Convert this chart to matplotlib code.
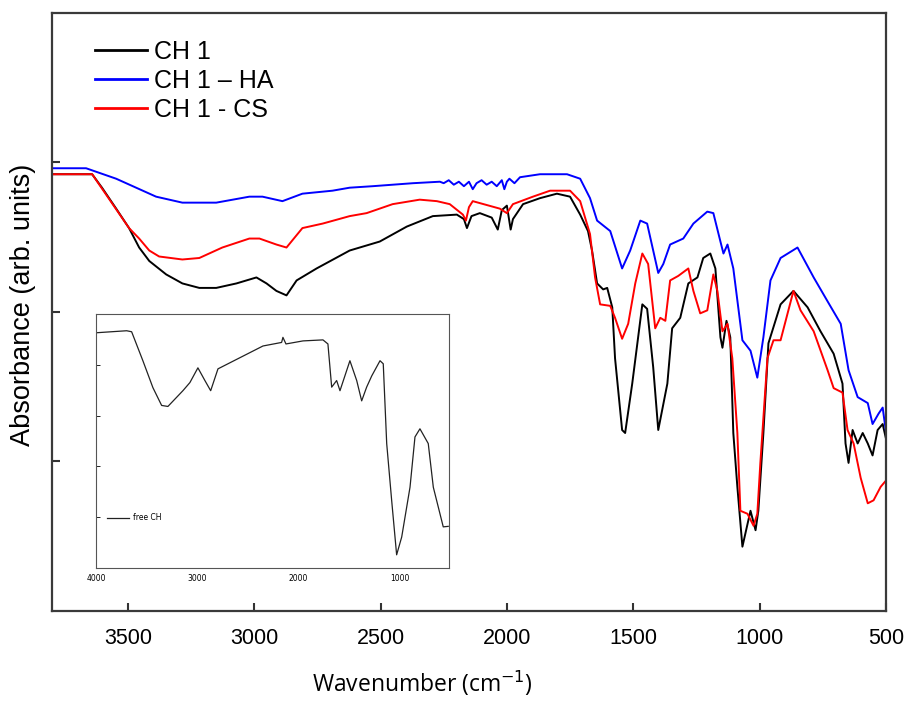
import matplotlib
matplotlib.use('Agg')
import matplotlib.pyplot as plt

# FTIR spectra, values (arbitrary absorbance units)
wn_ch1 = [3800, 3641, 3602, 3546, 3495, 3455, 3415, 3348, 3284, 3217, 3150, 3070, 2991,
          2951, 2912, 2872, 2832, 2753, 2622, 2503, 2396, 2293, 2198, 2170, 2158, 2140,
          2107, 2060, 2036, 2020, 2000, 1985, 1976, 1936, 1869, 1802, 1750, 1710, 1679,
          1663, 1643, 1619, 1603, 1583, 1572, 1544, 1532, 1504, 1464, 1445, 1421, 1401,
          1365, 1346, 1314, 1282, 1246, 1223, 1195, 1175, 1155, 1147, 1131, 1116, 1104,
          1088, 1068, 1056, 1036, 1016, 1005, 985, 965, 917, 866, 810, 759, 707, 672,
          660, 648, 632, 612, 592, 572, 553, 533, 513, 501]
abs_ch1 = [2.92, 2.92, 2.83, 2.69, 2.56, 2.43, 2.34, 2.25, 2.19, 2.16, 2.16, 2.19, 2.23,
           2.19, 2.14, 2.11, 2.21, 2.29, 2.41, 2.47, 2.57, 2.64, 2.65, 2.62, 2.56, 2.64,
           2.66, 2.63, 2.55, 2.68, 2.71, 2.55, 2.62, 2.72, 2.76, 2.79, 2.77, 2.65, 2.54,
           2.41, 2.19, 2.15, 2.16, 2.03, 1.69, 1.21, 1.19, 1.52, 2.05, 2.02, 1.63, 1.21,
           1.52, 1.89, 1.96, 2.19, 2.23, 2.36, 2.39, 2.29, 1.83, 1.76, 1.94, 1.83, 1.19,
           0.83, 0.43, 0.52, 0.67, 0.54, 0.67, 1.19, 1.79, 2.05, 2.14, 2.03, 1.87, 1.72,
           1.52, 1.12, 0.99, 1.21, 1.12, 1.19, 1.12, 1.04, 1.21, 1.25, 1.16]

wn_ha = [3800, 3665, 3614, 3546, 3467, 3388, 3284, 3150, 3019, 2967, 2888, 2809, 2690,
         2622, 2531, 2372, 2265, 2250, 2230, 2210, 2190, 2170, 2150, 2135, 2120, 2100,
         2080, 2060, 2040, 2020, 2010, 2000, 1990, 1970, 1948, 1869, 1762, 1710, 1671,
         1643, 1591, 1544, 1512, 1472, 1445, 1401, 1381, 1354, 1302, 1262, 1207, 1183,
         1155, 1143, 1127, 1104, 1068, 1036, 1009, 985, 957, 917, 850, 786, 731, 679,
         648, 612, 572, 553, 529, 513, 501]
abs_ha = [2.96, 2.96, 2.93, 2.89, 2.83, 2.77, 2.73, 2.73, 2.77, 2.77, 2.74, 2.79, 2.81,
          2.83, 2.84, 2.86, 2.87, 2.86, 2.88, 2.85, 2.87, 2.84, 2.87, 2.82, 2.86, 2.88,
          2.85, 2.87, 2.84, 2.88, 2.82, 2.87, 2.89, 2.86, 2.90, 2.92, 2.92, 2.89, 2.76,
          2.61, 2.54, 2.29, 2.41, 2.61, 2.59, 2.26, 2.32, 2.45, 2.49, 2.59, 2.67, 2.66,
          2.47, 2.39, 2.45, 2.29, 1.81, 1.74, 1.56, 1.83, 2.21, 2.36, 2.43, 2.23, 2.07,
          1.92, 1.61, 1.43, 1.39, 1.25, 1.32, 1.36, 1.21]

wn_cs = [3800, 3641, 3495, 3455, 3415, 3376, 3284, 3217, 3126, 3019, 2979, 2912, 2872,
         2809, 2729, 2622, 2555, 2452, 2345, 2277, 2226, 2174, 2162, 2150, 2135, 2028,
         2000, 1976, 1897, 1829, 1750, 1710, 1671, 1651, 1631, 1591, 1572, 1544, 1520,
         1492, 1464, 1441, 1413, 1393, 1373, 1354, 1322, 1282, 1262, 1235, 1207, 1183,
         1167, 1147, 1127, 1108, 1088, 1076, 1048, 1024, 1009, 997, 969, 945, 917, 866,
         838, 786, 731, 707, 672, 652, 628, 600, 572, 549, 521, 501]
abs_cs = [2.92, 2.92, 2.56, 2.49, 2.41, 2.37, 2.35, 2.36, 2.43, 2.49, 2.49, 2.45, 2.43,
          2.56, 2.59, 2.64, 2.66, 2.72, 2.75, 2.74, 2.72, 2.65, 2.61, 2.70, 2.74, 2.69,
          2.66, 2.72, 2.77, 2.81, 2.81, 2.74, 2.52, 2.23, 2.05, 2.04, 1.96, 1.82, 1.92,
          2.19, 2.39, 2.32, 1.89, 1.96, 1.94, 2.21, 2.24, 2.29, 2.14, 1.99, 2.01, 2.25,
          2.14, 1.87, 1.92, 1.69, 1.19, 0.67, 0.65, 0.57, 0.65, 0.99, 1.69, 1.81, 1.81,
          2.14, 2.01, 1.87, 1.61, 1.49, 1.46, 1.21, 1.12, 0.89, 0.72, 0.74, 0.83, 0.87]

# inset: free CH
wn_free = [4000, 3697, 3648, 3537, 3438, 3352, 3290, 3142, 3073, 2994, 2925, 2868, 2796,
           2579, 2352, 2168, 2155, 2125, 1957, 1760, 1711, 1674, 1625, 1592, 1494, 1427,
           1378, 1329, 1279, 1197, 1165, 1131, 1082, 1033, 983, 901, 852, 803, 721, 671,
           573, 524]
abs_free = [4.63, 4.67, 4.65, 4.08, 3.55, 3.20, 3.18, 3.49, 3.65, 3.94, 3.69, 3.49, 3.92,
            4.14, 4.37, 4.44, 4.54, 4.41, 4.47, 4.49, 4.41, 3.56, 3.69, 3.49, 4.08, 3.69,
            3.29, 3.56, 3.78, 4.08, 4.02, 2.45, 1.33, 0.26, 0.61, 1.59, 2.58, 2.74, 2.45,
            1.59, 0.81, 0.82]

main_xticks = [3500, 3000, 2500, 2000, 1500, 1000, 500]
inset_xticks = [4000, 3000, 2000, 1000]

fig = plt.figure(figsize=(9.07, 7.01), dpi=100)
ax = fig.add_axes([0.0573, 0.1284, 0.9195, 0.8535])

ax.plot(wn_ch1, abs_ch1, color="black", linewidth=1.4, label="CH 1")
ax.plot(wn_ha, abs_ha, color="#0000ff", linewidth=1.4, label="CH 1 \u2013 HA")
ax.plot(wn_cs, abs_cs, color="#ff0000", linewidth=1.4, label="CH 1 - CS")

ax.set_xlim(3800, 500)
ax.set_ylim(0, 4)
ax.set_xticks(main_xticks)
ax.set_yticks([1, 2, 3])
ax.set_yticklabels([])
ax.tick_params(direction="in", length=6, width=1.5, color="#333333",
               labelsize=15.5, pad=12)
for lab in ax.get_xticklabels():
    lab.set_family("Liberation Sans")
for sp in ax.spines.values():
    sp.set_linewidth(1.6)
    sp.set_color("#3a3a3a")

ax.set_xlabel("Wavenumber (cm$^{-1}$)", fontsize=16.5, family="Open Sans")
ax.xaxis.set_label_coords(0.4436, -0.097)
ax.set_ylabel("Absorbance (arb. units)", fontsize=19.5, family="Liberation Sans")
ax.yaxis.set_label_coords(-0.019, 0.512)

leg = ax.legend(loc="upper left", bbox_to_anchor=(0.052, 0.954), frameon=False,
                prop={"family": "Liberation Sans", "size": 18}, handlelength=2.05,
                handletextpad=0.3, labelspacing=0.2, borderpad=0, borderaxespad=0)
for h in leg.get_lines():
    h.set_linewidth(2)

# inset with the free CH spectrum
ins = fig.add_axes([0.1058, 0.1897, 0.3896, 0.3624])
ins.plot(wn_free, abs_free, color="#222222", linewidth=0.9, label="free CH")
ins.set_xlim(4000, 513)
ins.set_ylim(0, 5)
ins.set_xticks(inset_xticks)
ins.set_yticks([1, 2, 3, 4])
ins.set_yticklabels([])
ins.tick_params(axis="x", length=0, labelsize=5.5, pad=4)
ins.tick_params(axis="y", direction="in", length=3, width=0.6)
for sp in ins.spines.values():
    sp.set_linewidth(0.8)
    sp.set_color("#555555")
ins.legend(loc="lower left", bbox_to_anchor=(0.03, 0.18), frameon=False,
           prop={"size": 5.5}, handlelength=3, handletextpad=0.5,
           borderpad=0, borderaxespad=0)

fig.savefig("out.png", dpi=100)
